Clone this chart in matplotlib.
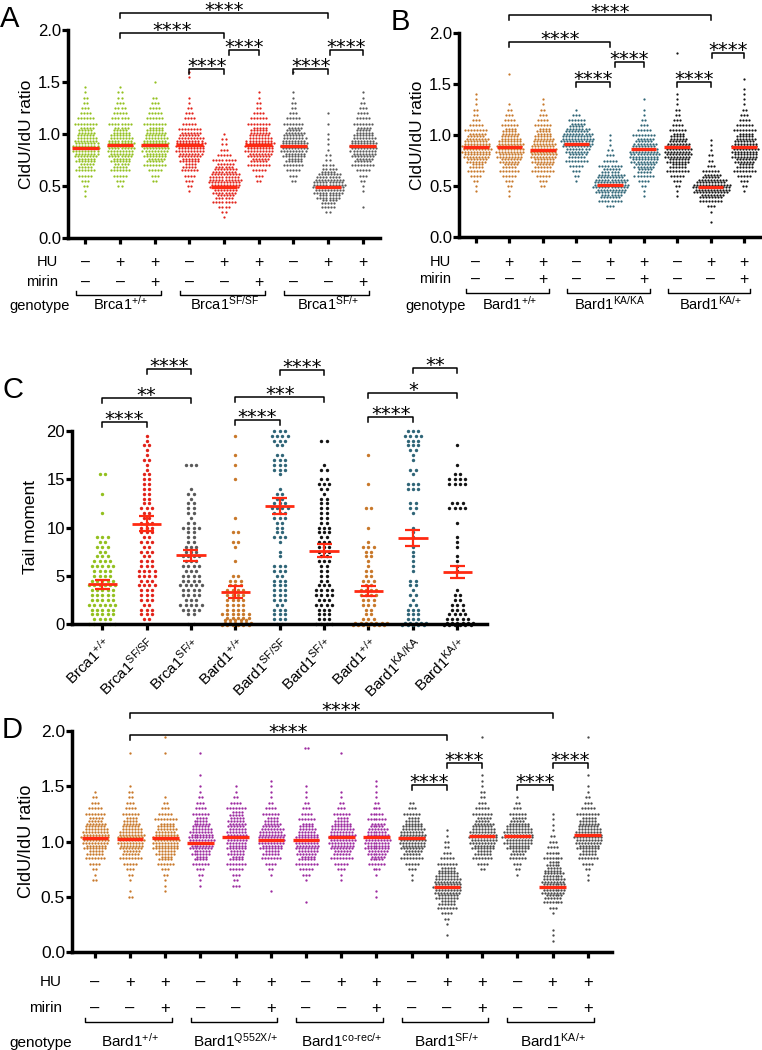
import matplotlib
matplotlib.use('Agg')
import matplotlib.pyplot as plt
from matplotlib.transforms import blended_transform_factory

plt.rcParams['font.family'] = ['Liberation Sans', 'DejaVu Sans']
plt.rcParams['mathtext.fontset'] = 'custom'
plt.rcParams['mathtext.rm'] = 'Liberation Sans'
plt.rcParams['mathtext.it'] = 'Liberation Sans'

W, H = 762, 1050

# ---------------- data (counts per value row) ----------------
# panel A: CldU/IdU ratio, rows every 0.05 starting at a_start
a_start = [0.40, 0.50, 0.55, 0.45, 0.20, 0.55, 0.55, 0.25, 0.30]
a_counts = [
    [1, 1, 2, 3, 5, 7, 10, 13, 16, 18, 17, 15, 12, 10, 8, 6, 4, 3, 2, 2, 1, 1],
    [2, 3, 5, 7, 10, 13, 16, 18, 18, 16, 13, 10, 8, 6, 5, 4, 3, 2, 2, 1],
    [2, 3, 5, 8, 12, 15, 18, 18, 16, 14, 11, 8, 6, 5, 4, 3, 2, 0, 0, 1],
    [1, 2, 3, 4, 6, 9, 13, 16, 19, 20, 18, 14, 8, 5, 4, 3, 2, 1, 1, 0, 0, 0, 1, 1],
    [1, 2, 4, 8, 12, 16, 20, 22, 20, 16, 12, 8, 5, 3, 2, 2, 1],
    [2, 3, 5, 8, 12, 16, 19, 20, 17, 14, 11, 8, 6, 4, 2, 2, 1, 1],
    [2, 3, 5, 7, 11, 15, 18, 18, 16, 14, 10, 7, 5, 3, 2, 2, 1, 1, 0, 0, 0, 1],
    [2, 5, 10, 15, 20, 22, 20, 16, 10, 4, 2, 2, 1, 1, 1, 1, 0, 1, 0, 1],
    [1, 0, 0, 1, 1, 2, 3, 5, 8, 12, 16, 18, 18, 16, 13, 10, 7, 5, 4, 3, 2, 1, 1],
]
a_median = [0.87, 0.89, 0.89, 0.89, 0.49, 0.89, 0.88, 0.49, 0.88]
a_hu = ['-', '+', '+', '-', '+', '+', '-', '+', '+']
a_mirin = ['-', '-', '+', '-', '-', '+', '-', '-', '+']
a_genotypes = [r'Brca1$^{\text{+/+}}$', r'Brca1$^{\text{SF/SF}}$', r'Brca1$^{\text{SF/+}}$']

# panel B
b_start = [0.45, 0.40, 0.50, 0.55, 0.30, 0.40, 0.40, 0.15, 0.45]
b_counts = [
    [1, 1, 2, 4, 6, 9, 14, 18, 20, 19, 16, 12, 8, 5, 3, 2, 2, 1, 1, 1],
    [1, 1, 2, 3, 5, 7, 10, 14, 17, 19, 18, 15, 12, 9, 6, 4, 3, 2, 1, 0, 0, 0, 0, 0, 1],
    [2, 3, 5, 8, 12, 15, 18, 18, 16, 14, 11, 9, 6, 4, 3, 2, 1, 1],
    [1, 2, 3, 5, 8, 12, 16, 20, 22, 20, 16, 10, 6, 3, 1],
    [3, 8, 14, 20, 24, 22, 18, 12, 8, 5, 3, 2, 1, 1, 1],
    [1, 1, 2, 4, 7, 10, 14, 18, 20, 19, 16, 12, 8, 5, 3, 2, 1, 1, 0, 1],
    [1, 1, 2, 3, 5, 8, 11, 15, 18, 18, 16, 12, 9, 6, 4, 3, 2, 2, 1, 1, 1, 0, 0, 0, 0, 0, 0, 0, 1],
    [1, 0, 1, 3, 8, 16, 24, 26, 20, 12, 6, 3, 2, 2, 1, 1, 1],
    [1, 2, 3, 5, 8, 11, 14, 17, 18, 17, 14, 11, 8, 6, 4, 3, 2, 1, 1, 1, 1, 0, 1],
]
b_median = [0.88, 0.88, 0.85, 0.91, 0.51, 0.86, 0.88, 0.49, 0.88]
b_genotypes = [r'Bard1$^{\text{+/+}}$', r'Bard1$^{\text{KA/KA}}$', r'Bard1$^{\text{KA/+}}$']

# panel C: tail moment, rows every 0.5 starting at 0
c_labels = [r'Brca1$^{\text{+/+}}$', r'Brca1$^{\text{SF/SF}}$', r'Brca1$^{\text{SF/+}}$',
            r'Bard1$^{\text{+/+}}$', r'Bard1$^{\text{SF/SF}}$', r'Bard1$^{\text{SF/+}}$',
            r'Bard1$^{\text{+/+}}$', r'Bard1$^{\text{KA/KA}}$', r'Bard1$^{\text{KA/+}}$']
c_counts = [
    [6, 4, 5, 5, 6, 5, 5, 5, 6, 5, 4, 4, 5, 4, 3, 2, 3, 2, 3, 0, 0, 0, 0, 1, 0, 0, 0, 1, 0, 0, 0, 2],
    [0, 2, 3, 3, 2, 3, 3, 3, 4, 3, 4, 4, 3, 3, 2, 3, 2, 3, 2, 3, 3, 3, 2, 2, 3, 2, 2, 2, 2, 2, 2, 2, 1, 1, 2, 1, 1, 2, 1, 1],
    [2, 0, 2, 4, 5, 3, 4, 4, 5, 4, 4, 3, 4, 3, 4, 3, 3, 2, 2, 2, 4, 2, 1, 2, 2, 2, 1, 2, 1, 0, 0, 0, 0, 3],
    [12, 10, 6, 4, 4, 4, 4, 4, 3, 3, 2, 0, 0, 1, 0, 0, 1, 2, 0, 2, 0, 0, 1, 0, 0, 0, 0, 0, 0, 0, 1, 0, 0, 1, 0, 1, 0, 0, 0, 1],
    [2, 3, 3, 3, 2, 3, 3, 3, 3, 3, 2, 3, 3, 0, 1, 1, 0, 1, 3, 2, 2, 2, 3, 3, 4, 3, 2, 2, 1, 0, 0, 1, 3, 3, 3, 2, 0, 2, 3, 4, 3],
    [4, 3, 3, 3, 4, 3, 4, 4, 3, 2, 2, 2, 2, 3, 2, 3, 3, 3, 2, 3, 3, 2, 2, 2, 2, 2, 2, 1, 2, 3, 2, 0, 2, 1, 0, 0, 0, 0, 2],
    [14, 3, 2, 2, 3, 3, 4, 4, 2, 3, 2, 2, 1, 1, 2, 2, 3, 1, 0, 0, 1, 0, 0, 0, 2, 0, 0, 0, 0, 1, 0, 0, 0, 0, 0, 1],
    [10, 3, 3, 3, 2, 1, 2, 1, 2, 2, 0, 1, 1, 1, 1, 1, 1, 0, 1, 1, 1, 0, 0, 1, 2, 2, 0, 0, 3, 3, 0, 1, 2, 0, 1, 1, 2, 3, 3, 4, 3],
    [12, 5, 4, 3, 3, 2, 2, 1, 0, 0, 0, 1, 1, 1, 1, 0, 1, 1, 1, 0, 0, 1, 0, 0, 4, 3, 0, 0, 0, 4, 4, 2, 0, 1, 0, 0, 0, 1],
]
c_mean = [4.1, 10.4, 7.1, 3.3, 12.2, 7.6, 3.4, 8.9, 5.4]
c_sem = [0.45, 0.75, 0.6, 0.6, 0.85, 0.65, 0.5, 0.85, 0.65]

# panel D
d_start = [0.60, 0.50, 0.55, 0.60, 0.60, 0.55, 0.45, 0.60, 0.50, 0.65, 0.15, 0.75, 0.70, 0.10, 0.65]
d_counts = [
    [0, 2, 1, 2, 4, 7, 11, 15, 18, 19, 17, 14, 10, 7, 5, 3, 2, 1],
    [2, 1, 0, 1, 2, 3, 5, 8, 12, 16, 18, 18, 15, 12, 9, 6, 4, 3, 2, 2, 1, 0, 0, 0, 0, 0, 1],
    [1, 1, 1, 2, 3, 6, 9, 13, 17, 18, 17, 14, 11, 8, 5, 3, 2, 1, 0, 0, 0, 0, 0, 0, 0, 1, 0, 0, 1],
    [1, 1, 2, 3, 6, 9, 13, 16, 18, 17, 15, 12, 9, 6, 4, 3, 2, 1, 1, 0, 1, 0, 0, 0, 1],
    [3, 2, 3, 5, 7, 9, 11, 13, 14, 14, 13, 12, 11, 9, 7, 4, 2, 1, 1],
    [1, 0, 0, 1, 2, 4, 7, 11, 15, 18, 18, 16, 12, 9, 6, 4, 2, 1, 1, 1, 1],
    [1, 0, 0, 0, 1, 3, 5, 8, 11, 14, 16, 16, 15, 12, 9, 6, 4, 3, 2, 1, 1, 1, 0, 0, 0, 0, 0, 0, 2],
    [0, 1, 1, 3, 5, 8, 12, 16, 18, 18, 16, 13, 9, 6, 3, 2, 1, 1, 0, 0, 0, 0, 0, 0, 1],
    [1, 1, 0, 0, 1, 3, 6, 10, 14, 17, 18, 17, 14, 10, 7, 5, 3, 2, 1, 1, 1, 1],
    [1, 1, 3, 5, 8, 12, 16, 18, 18, 16, 13, 9, 6, 3, 2],
    [1, 0, 1, 2, 4, 7, 11, 15, 18, 19, 18, 15, 11, 7, 5, 3, 2, 2, 1, 1],
    [2, 4, 7, 11, 15, 18, 19, 17, 14, 10, 7, 5, 3, 2, 2, 1, 1, 1, 0, 0, 0, 0, 0, 0, 1],
    [1, 2, 3, 6, 10, 15, 19, 21, 19, 15, 10, 6, 3, 2, 1],
    [1, 1, 1, 0, 0, 1, 3, 7, 12, 16, 17, 16, 14, 11, 9, 7, 5, 4, 3, 2, 1, 1, 1, 1],
    [1, 1, 2, 4, 7, 11, 15, 18, 19, 17, 14, 11, 8, 5, 3, 2, 1, 1, 0, 1, 0, 0, 0, 0, 0, 0, 1],
]
d_median = [1.03, 1.02, 1.03, 0.99, 1.04, 1.01, 1.01, 1.04, 1.04, 1.03, 0.59, 1.05, 1.05, 0.59, 1.06]
d_hu = a_hu + ['-', '+', '+'] * 2
d_mirin = a_mirin + ['-', '-', '+'] * 2
d_genotypes = [r'Bard1$^{\text{+/+}}$', r'Bard1$^{\text{Q552X/+}}$', r'Bard1$^{\text{co-rec/+}}$',
               r'Bard1$^{\text{SF/+}}$', r'Bard1$^{\text{KA/+}}$']

GREEN, RED, GRAY = '#93c01f', '#e2231a', '#5a5a5a'
ORANGE, TEAL, BLACK = '#c8782a', '#2f6577', '#141414'
PURPLE, DGRAY, MED = '#9c2aa0', '#4a4a4a', '#ff2a12'

fig = plt.figure(figsize=(W / 100, H / 100), dpi=100)


def fy(ypx):
    return 1 - ypx / H


def make_axes(left, right, top, bottom):
    ax = fig.add_axes([left / W, 1 - bottom / H, (right - left) / W, (bottom - top) / H])
    for s in ['top', 'right']:
        ax.spines[s].set_visible(False)
    for s in ['left', 'bottom']:
        ax.spines[s].set_linewidth(2.5)
    ax.tick_params(direction='out', length=4, width=2.3, labelsize=12, pad=1)
    ax.patch.set_alpha(0)
    return ax


def swarm(ax, xc, start, step, counts, color, dx, size, maxrow):
    xs, ys = [], []
    for i, n in enumerate(counts):
        if n == 0:
            continue
        v = start + i * step
        nrows = 2 if n > maxrow else 1
        for r in range(nrows):
            m = n // nrows + (1 if r < n % nrows else 0)
            yoff = (r - (nrows - 1) / 2) * step / 2
            shift = dx / 2 * (r % 2) if nrows == 2 else 0
            for k in range(m):
                xs.append(xc + (k - (m - 1) / 2) * dx + shift)
                ys.append(v + yoff)
    ax.scatter(xs, ys, s=size, c=color, linewidths=0, clip_on=False, zorder=2)


def bracket(ax, x1, x2, ypx, label, drop=5):
    tr = blended_transform_factory(ax.transData, fig.transFigure)
    ax.plot([x1, x1, x2, x2], [fy(ypx + drop), fy(ypx), fy(ypx), fy(ypx + drop)],
            color='black', lw=1.1, transform=tr, clip_on=False)
    ax.text((x1 + x2) / 2, fy(ypx + 3), label, transform=tr, ha='center', va='baseline',
            fontsize=14, family='DejaVu Sans')


def table(ax, hu, mirin, rows, labx, genx, groups, genotypes, fs=10.5):
    y_hu, y_mi, y_br, y_gen = rows
    tr = blended_transform_factory(ax.transData, fig.transFigure)
    sign = {'-': '\u2013', '+': '+'}
    for i in range(len(hu)):
        ax.text(i, fy(y_hu), sign[hu[i]], transform=tr, ha='center', va='center', fontsize=fs + 1)
        ax.text(i, fy(y_mi), sign[mirin[i]], transform=tr, ha='center', va='center', fontsize=fs + 1)
    fig.text(labx / W, fy(y_hu), 'HU', ha='right', va='center', fontsize=fs)
    fig.text(labx / W, fy(y_mi), 'mirin', ha='right', va='center', fontsize=fs)
    fig.text(genx / W, fy(y_gen), 'genotype', ha='right', va='baseline', fontsize=fs)
    for (g0, g1), lab in zip(groups, genotypes):
        x1, x2 = g0 - 0.28, g1 + 0.18
        ax.plot([x1, x1, x2, x2], [fy(y_br - 4), fy(y_br), fy(y_br), fy(y_br - 4)],
                color='black', lw=1.0, transform=tr, clip_on=False)
        ax.text((g0 + g1) / 2, fy(y_gen), lab, transform=tr, ha='center', va='baseline', fontsize=fs)


def ratio_panel(ax, starts, counts, medians, colors, dx, size):
    for i, (st, cn) in enumerate(zip(starts, counts)):
        swarm(ax, i, st, 0.05, cn, colors[i], dx, size, 8)
        ax.hlines(medians[i], i - 0.38, i + 0.38, color=MED, lw=2.4, zorder=3)
    ax.set_ylim(0, 2)
    ax.set_yticks([0, 0.5, 1.0, 1.5, 2.0])
    ax.set_yticklabels(['0.0', '0.5', '1.0', '1.5', '2.0'])
    ax.set_xticks(range(len(counts)))
    ax.set_xticklabels([])


# ---------------- panel A ----------------
axA = make_axes(68, 380, 30, 238)
axA.set_xlim(-0.5, 8.5)
ratio_panel(axA, a_start, a_counts, a_median, [GREEN] * 3 + [RED] * 3 + [GRAY] * 3, 0.088, 2.6)
axA.set_ylabel('CldU/IdU ratio', fontsize=12.5, labelpad=3)
for x1, x2, y in [(1, 7, 13), (1, 4, 33), (3, 4, 69), (4.15, 5, 50), (6, 7, 69), (7.05, 8, 50)]:
    bracket(axA, x1, x2, y, '****')
table(axA, a_hu, a_mirin, (262, 282, 295, 310), 58, 70, [(0, 2), (3, 5), (6, 8)], a_genotypes)
fig.text(0 / W, fy(27), 'A', fontsize=21, va='baseline')

# ---------------- panel B ----------------
axB = make_axes(459, 761, 33, 237)
axB.set_xlim(-0.5, 8.5)
ratio_panel(axB, b_start, b_counts, b_median, [ORANGE] * 3 + [TEAL] * 3 + [BLACK] * 3, 0.09, 2.6)
axB.set_ylabel('CldU/IdU ratio', fontsize=12.5, labelpad=3)
for x1, x2, y in [(1, 7, 15), (1, 4, 42), (3, 4, 82), (4.15, 5, 62), (6, 7, 82), (7.05, 8, 53)]:
    bracket(axB, x1, x2, y, '****')
table(axB, a_hu, a_mirin, (262, 279, 293, 310), 451, 466, [(0, 2), (3, 5), (6, 8)], b_genotypes)
fig.text(391 / W, fy(30), 'B', fontsize=21, va='baseline')

# ---------------- panel C ----------------
axC = make_axes(72, 487, 431, 624)
axC.set_xlim(-0.68, 8.67)
c_colors = [GREEN, RED, GRAY, ORANGE, TEAL, BLACK, ORANGE, TEAL, BLACK]
for i, cn in enumerate(c_counts):
    swarm(axC, i, 0.0, 0.5, cn, c_colors[i], 0.12, 6.0, 7)
    m, e = c_mean[i], c_sem[i]
    axC.hlines(m, i - 0.33, i + 0.33, color=MED, lw=2.0, zorder=3)
    axC.hlines([m - e, m + e], i - 0.17, i + 0.17, color=MED, lw=1.6, zorder=3)
    axC.vlines(i, m - e, m + e, color=MED, lw=1.6, zorder=3)
axC.set_ylim(0, 20)
axC.set_yticks([0, 5, 10, 15, 20])
axC.set_xticks(range(9))
axC.set_xticklabels(c_labels, rotation=45, ha='right', rotation_mode='anchor', fontsize=11)
axC.tick_params(axis='x', pad=4)
axC.set_ylabel('Tail moment', fontsize=12.5, labelpad=6)
for x1, x2, y, lab in [(0, 1, 422, '****'), (0, 2, 398, '**'), (1, 2, 369, '****'),
                       (3, 4, 420, '****'), (3, 5, 397, '***'), (4, 5, 370, '****'),
                       (6, 7, 417, '****'), (6, 8, 393, '*'), (7, 8, 368, '**')]:
    bracket(axC, x1, x2, y, lab)
fig.text(2 / W, fy(398), 'C', fontsize=21, va='baseline')

# ---------------- panel D ----------------
axD = make_axes(72, 612, 731, 952)
axD.set_xlim(-0.65, 14.69)
d_colors = [ORANGE] * 3 + [PURPLE] * 6 + [DGRAY] * 6
ratio_panel(axD, d_start, d_counts, d_median, d_colors, 0.085, 2.8)
axD.tick_params(labelsize=12.5)
axD.set_ylabel('CldU/IdU ratio', fontsize=13, labelpad=4)
for x1, x2, y in [(1, 13, 713), (1, 10, 735), (9, 10, 785), (10, 11, 763), (12, 13, 785), (13, 14, 763)]:
    bracket(axD, x1, x2, y, '****')
table(axD, d_hu, d_mirin, (982, 1008, 1022, 1047), 62, 72,
      [(0, 2), (3, 5), (6, 8), (9, 11), (12, 14)], d_genotypes, fs=11)
fig.text(2 / W, fy(738), 'D', fontsize=21, va='baseline')

fig.savefig('out.png', dpi=100)
